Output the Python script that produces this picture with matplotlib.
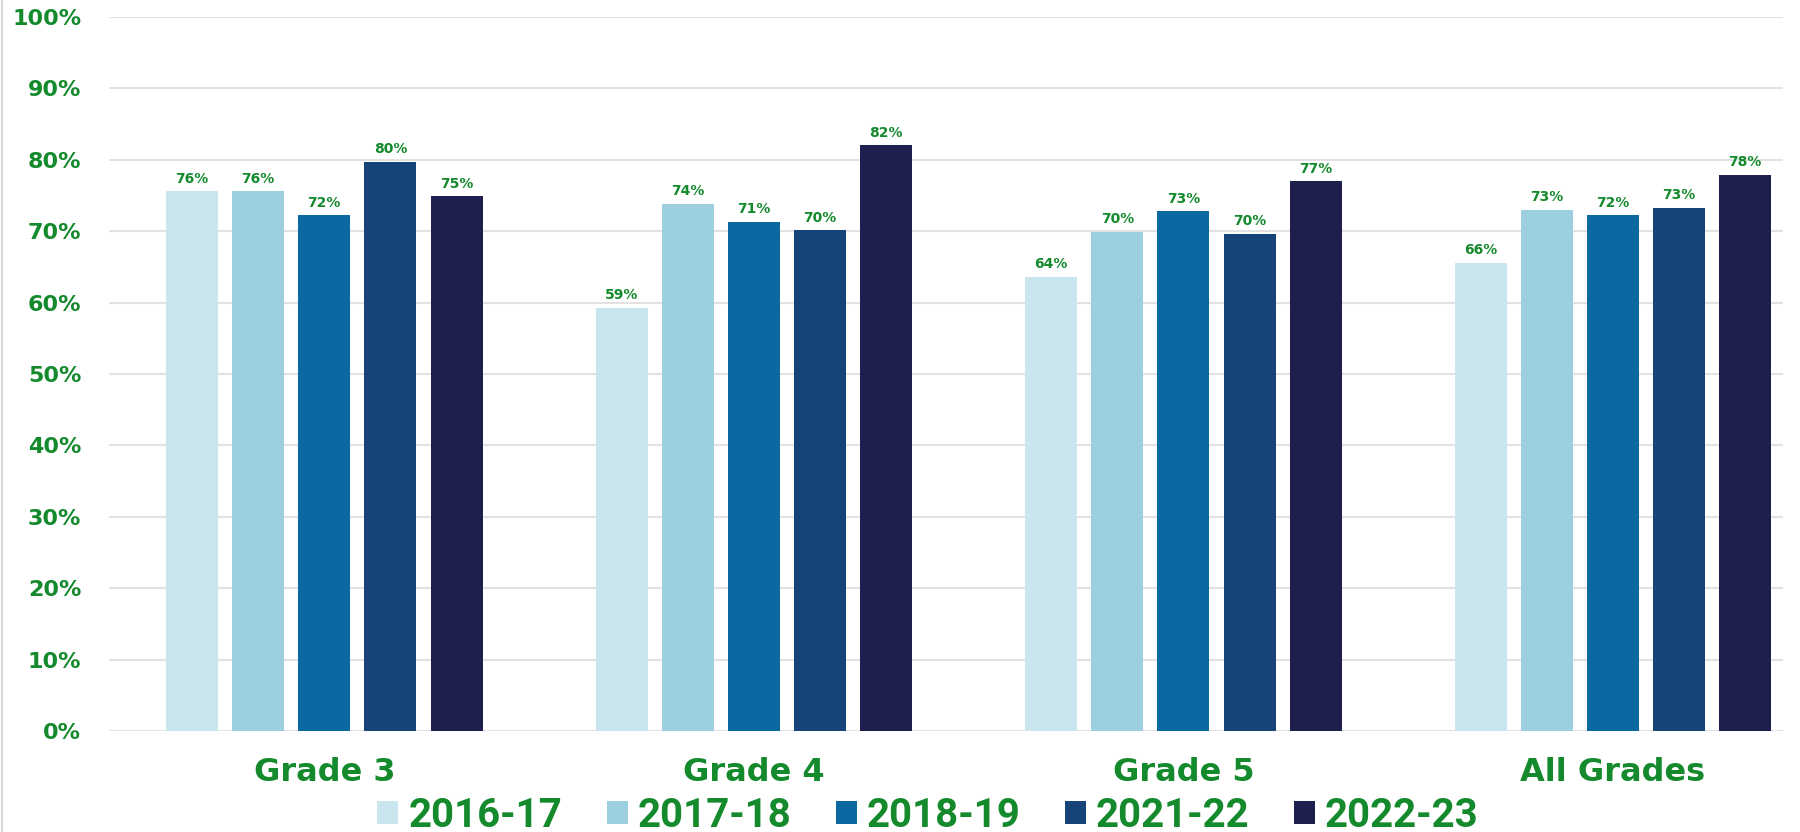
import numpy as np
import matplotlib.pyplot as plt
from matplotlib.lines import Line2D

grades = ["Grade 3", "Grade 4", "Grade 5", "All Grades"]
years = ["2016-17", "2017-18", "2018-19", "2021-22", "2022-23"]
colors = ["#c9e5ee", "#9ccfdf", "#0a69a1", "#174478", "#1f1f4f"]

y2016 = [75.6, 59.3, 63.6, 65.6]
y2017 = [75.6, 73.8, 69.9, 73.0]
y2018 = [72.2, 71.3, 72.8, 72.2]
y2021 = [79.7, 70.1, 69.6, 73.3]
y2022 = [74.9, 82.0, 77.0, 77.9]
series = [y2016, y2017, y2018, y2021, y2022]

green = "#148a2d"

fig = plt.figure(figsize=(18, 8.32), dpi=100)
ax = fig.add_axes([0.0606, 0.1214, 0.93, 0.8582])

x = np.arange(len(grades))
pitch = 0.154
width = 0.121
for j, (vals, yr, c) in enumerate(zip(series, years, colors)):
    pos = x + (j - 2) * pitch
    bars = ax.bar(pos, vals, width, color=c, label=yr, zorder=3)
    for b, v in zip(bars, vals):
        ax.annotate(f"{v:.0f}%", (b.get_x() + b.get_width() / 2, v),
                    xytext=(0, 4), textcoords="offset points",
                    ha="center", va="bottom", fontsize=10,
                    fontweight="bold", color=green)

ax.set_xlim(-0.501, 3.396)
ax.set_ylim(0, 100)
ax.set_yticks(np.arange(0, 101, 10))
ax.set_yticklabels([f"{t}%" for t in range(0, 101, 10)])
ax.tick_params(axis="y", length=0, pad=20, labelsize=16, labelcolor=green)
for lab in ax.get_yticklabels():
    lab.set_fontweight("bold")
ax.set_xticks(x)
ax.set_xticklabels(grades, fontweight="bold", fontsize=23, color=green)
ax.tick_params(axis="x", length=0, pad=19)
ax.grid(axis="y", color="#e2e2e2", linewidth=1.5, zorder=0)
for s in ax.spines.values():
    s.set_visible(False)

fig.legend(loc="center", bbox_to_anchor=(0.5156, 0.019), ncol=5, frameon=False,
           prop={"family": "Roboto", "weight": "bold", "size": 29},
           labelcolor=green, handlelength=0.52, handleheight=0.5,
           handletextpad=0.25, columnspacing=1.1, borderpad=0.0)

# faint border at the left edge
fig.add_artist(Line2D([0.001, 0.001], [0, 1], transform=fig.transFigure,
                      color="#d8d8d8", linewidth=1.5))

fig.savefig("out.png", dpi=100)
